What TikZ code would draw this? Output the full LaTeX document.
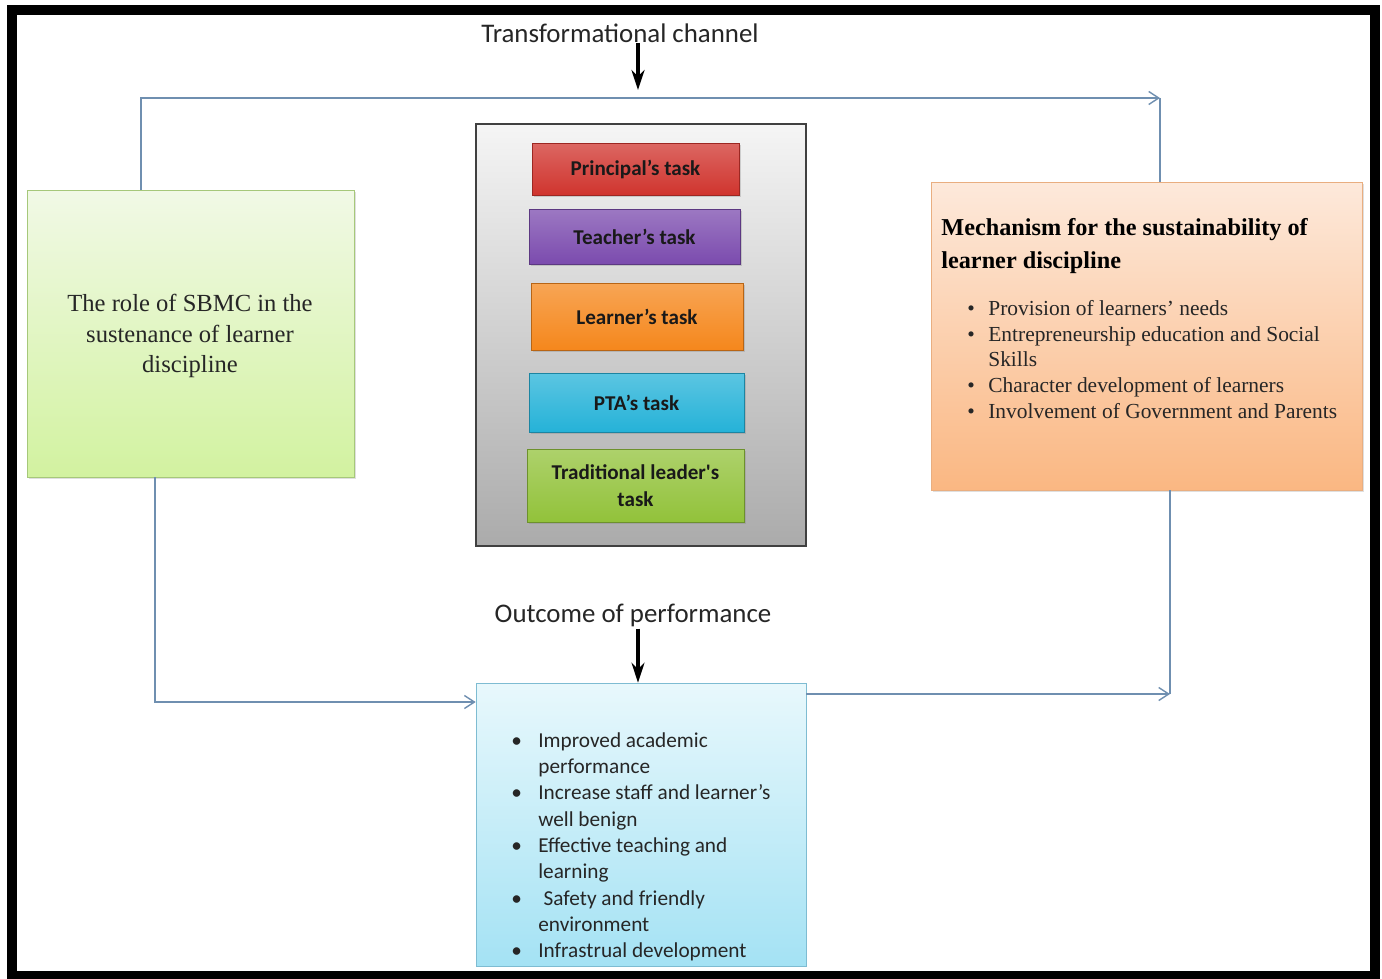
\documentclass[tikz,border=0pt]{standalone}
\usepackage{fontspec}
\setmainfont{Liberation Serif}
\newfontfamily\calibri{Carlito}
\usepackage{xcolor}
\usetikzlibrary{positioning,arrows.meta,shadows}
\definecolor{linkblue}{HTML}{6F8FB0}
\definecolor{taskred}{HTML}{D0342E}
\definecolor{taskpurple}{HTML}{7B4BAE}
\definecolor{taskorange}{HTML}{F5871C}
\definecolor{taskcyan}{HTML}{25B2D8}
\definecolor{taskgreen}{HTML}{92C23A}
\definecolor{sbmctop}{HTML}{F1F9E6}
\definecolor{sbmcbot}{HTML}{D2F2A0}
\definecolor{sbmcline}{HTML}{A6C87A}
\definecolor{mechtop}{HTML}{FDE9DB}
\definecolor{mechbot}{HTML}{FAB782}
\definecolor{mechline}{HTML}{E9AE80}
\definecolor{outctop}{HTML}{E8F8FC}
\definecolor{outcbot}{HTML}{A4E2F4}
\definecolor{outcline}{HTML}{7EBCD2}
\newcommand{\itm}[1][0.46cm]{\makebox[#1][l]{\textbullet}}
\newcommand{\cnt}[1][0.46cm]{\hspace*{#1}}

\begin{document}
\begin{tikzpicture}[
    x=0.02cm, y=-0.02cm,
    task/.style={draw=#1!75!black, top color=#1!75!white, bottom color=#1, align=center, text=black!90,
        font=\calibri\bfseries\fontsize{12}{15.3}\selectfont,
        drop shadow={opacity=0.3, shadow xshift=1pt, shadow yshift=-1.2pt}},
    panel/.style={inner sep=0pt, drop shadow={opacity=0.25, shadow xshift=1pt, shadow yshift=-1.2pt}},
    label/.style={font=\calibri\fontsize{15.3}{18}\selectfont, text=black!85},
    link/.style={draw=linkblue, line width=0.8pt},
    arr/.style={link, -{Straight Barb[length=2mm, width=2.6mm]}},
    bigarr/.style={draw=black, line width=2pt, -{Stealth[length=4mm, width=2.6mm]}}
]
    \fill[white] (0,0) rectangle (1382,978);
    \useasboundingbox (0,0) rectangle (1382,978);

    % Main boxes
    \node[panel, draw=sbmcline, top color=sbmctop, bottom color=sbmcbot,
        minimum width=6.54cm, minimum height=5.74cm] (sbmc) at (190.5,333.5) {};
    \node[align=center, font=\fontsize{14}{17.3}\selectfont, text=black!85] (sbmctxt) at (190,336)
        {The role of SBMC in the\\ sustenance of learner\\ discipline};

    \node[draw=black!75, line width=0.7pt, top color=black!4, bottom color=black!33,
        minimum width=6.6cm, minimum height=8.44cm] (tasks) at (641,335) {};

    \node[panel, draw=mechline, top color=mechtop, bottom color=mechbot,
        minimum width=8.62cm, minimum height=6.16cm] (mech) at (1146.5,336) {};
    \node[anchor=north west, inner sep=0pt, align=left, font=\bfseries\fontsize{13.8}{19}\selectfont] (mechhead) at (941,218)
        {Mechanism for the sustainability of\\ learner discipline};
    \node[anchor=north west, inner sep=0pt, align=left, font=\fontsize{12.2}{14.6}\selectfont, text=black!85] (mechlist) at (967,300)
        {\itm[0.42cm]Provision of learners’ needs\\
         \itm[0.42cm]Entrepreneurship education and Social\\
         \cnt[0.42cm]Skills\\
         \itm[0.42cm]Character development of learners\\
         \itm[0.42cm]Involvement of Government and Parents};

    \node[draw=outcline, top color=outctop, bottom color=outcbot,
        minimum width=6.6cm, minimum height=5.66cm] (outc) at (641,824.5) {};
    \node[anchor=north west, inner sep=0pt, align=left, font=\calibri\fontsize{12.1}{15}\selectfont, text=black!85] (outclist) at (511,732)
        {\itm[0.54cm]Improved academic\\
         \cnt[0.54cm]performance\\
         \itm[0.54cm]Increase staff and learner’s\\
         \cnt[0.54cm]well benign\\
         \itm[0.54cm]Effective teaching and\\
         \cnt[0.54cm]learning\\
         \itm[0.54cm]\hspace{0.25em}Safety and friendly\\
         \cnt[0.54cm]environment\\
         \itm[0.54cm]Infrastrual development};

    % Tasks inside the grey panel
    \node[task=taskred, minimum width=4.14cm, minimum height=1.04cm] (principal) at (635.5,169) {Principal’s task};
    \node[task=taskpurple, minimum width=4.22cm, minimum height=1.1cm] (teacher) at (634.5,236.5) {Teacher’s task};
    \node[task=taskorange, minimum width=4.24cm, minimum height=1.34cm] (learner) at (637,316.5) {Learner’s task};
    \node[task=taskcyan, minimum width=4.3cm, minimum height=1.18cm] (pta) at (636.5,402.5) {PTA’s task};
    \node[task=taskgreen, minimum width=4.34cm, minimum height=1.46cm] (tradit) at (635.5,485.5) {Traditional leader's\\ task};

    % Channel labels
    \node[label, inner sep=0pt] (trans) at (620,33) {Transformational channel};
    \node[label, inner sep=1pt] (perf) at (633,615) {Outcome of performance};

    % Connectors
    \coordinate (topl) at (141,97);
    \coordinate (topr) at (1160,98);
    \coordinate (botl) at (155,702);
    \coordinate (botr) at (1170,694);
    \coordinate (chan) at (638,90);

    \draw[arr] (sbmc.north -| topl) |- (topr);
    \draw[link] (topr) -- (mech.north -| topr);
    \draw[arr] (sbmc.south -| botl) |- (outc.west |- botl);
    \draw[arr] (outc.east |- botr) -- (botr);
    \draw[link] (mech.south -| botr) -- (botr);

    \draw[bigarr] (trans.south -| chan) -- (chan);
    \draw[bigarr] (perf.south -| chan) -- (outc.north -| chan);

    % Frame
    \draw[line width=0.2cm] (12,10) rectangle (1375,976);
\end{tikzpicture}
\end{document}
